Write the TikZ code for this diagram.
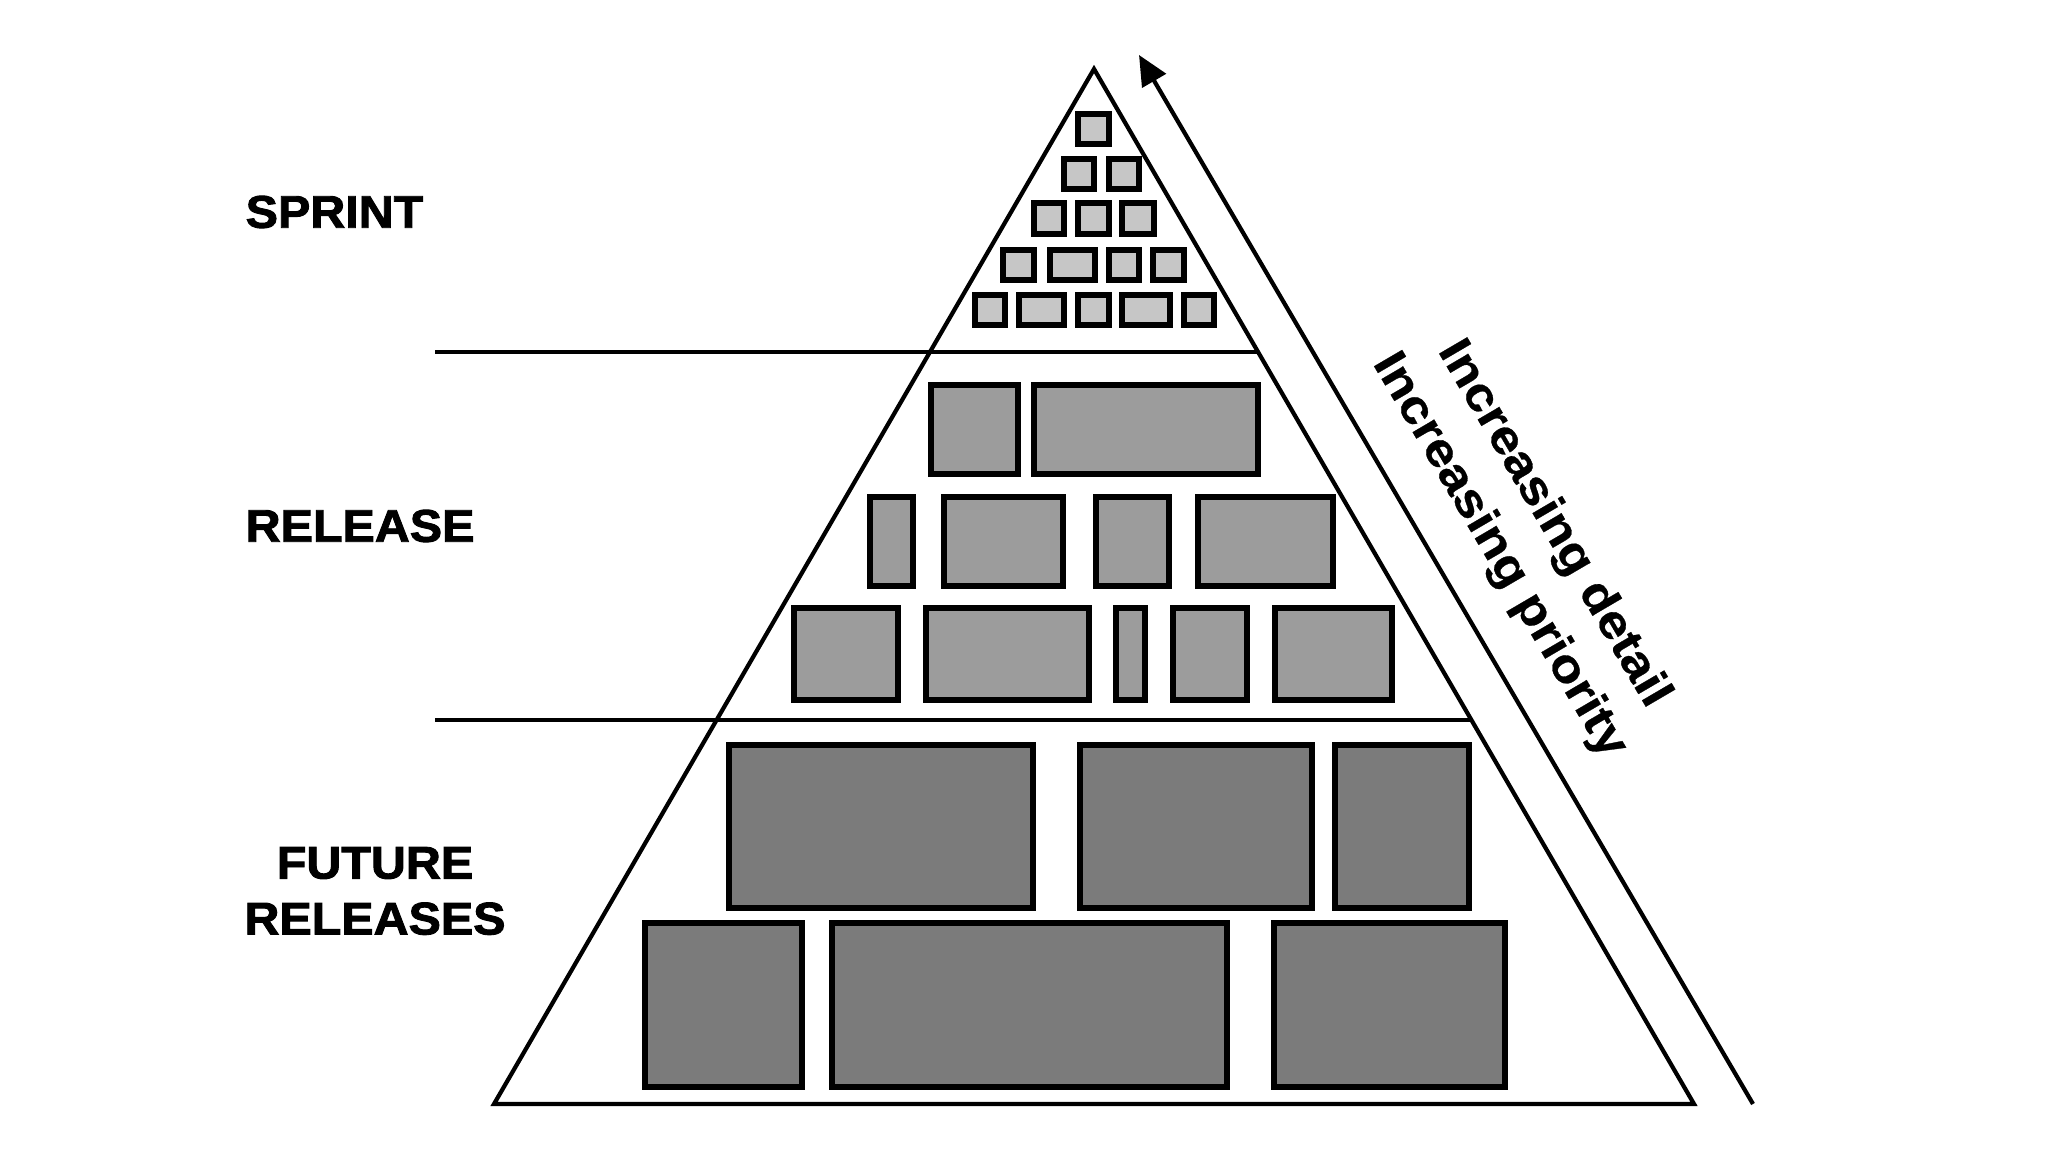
\documentclass[tikz,border=0pt]{standalone}
\usepackage{fontspec}
\setmainfont{Liberation Sans}
\newfontfamily\tierfont{Liberation Sans}[FakeStretch=1.06,FakeBold=2]
\newfontfamily\trendfont{Liberation Sans}[FakeStretch=1.12,FakeBold=0.6]
\usetikzlibrary{arrows.meta}
\definecolor{sprintgray}{HTML}{C6C6C6}
\definecolor{releasegray}{HTML}{9C9C9C}
\definecolor{futuregray}{HTML}{7B7B7B}
\tikzset{
  edge/.style={line width=1.2pt},
  brick/.style={draw=black, line width=1.7pt},
  sprintbrick/.style={brick, fill=sprintgray},
  releasebrick/.style={brick, fill=releasegray},
  futurebrick/.style={brick, fill=futuregray},
  tier/.style={inner sep=0pt, font=\tierfont\bfseries\fontsize{13}{15.9}\selectfont},
  trend/.style={inner sep=0pt, align=center, font=\trendfont\bfseries\fontsize{13.4}{17.8}\selectfont},
  >={Triangle[length=3mm, width=2.7mm]},
}

\begin{document}
\begin{tikzpicture}[x=0.1mm, y=-0.1mm]
    \useasboundingbox (0,0) rectangle (2048,1152);
    % pyramid
    \coordinate (apex) at (1094,69);
    \coordinate (baseL) at (494,1104);
    \coordinate (baseR) at (1694,1104);
    \draw[edge] (baseL) -- (apex) -- (baseR) -- cycle;
    % dividers between the tiers
    \coordinate (cutAL) at (435,352);
    \coordinate (cutAR) at (1258,352);
    \coordinate (cutBL) at (435,720);
    \coordinate (cutBR) at (1471,720);
    \draw[edge] (cutAL) -- (cutAR);
    \draw[edge] (cutBL) -- (cutBR);
    % sprint bricks
    \foreach \xa/\xb in {1078/1109}
      \draw[sprintbrick] (\xa,114) rectangle (\xb,144);
    \foreach \xa/\xb in {1064/1094, 1109/1139}
      \draw[sprintbrick] (\xa,159) rectangle (\xb,189);
    \foreach \xa/\xb in {1034/1064, 1078/1109, 1122/1154}
      \draw[sprintbrick] (\xa,203) rectangle (\xb,234);
    \foreach \xa/\xb in {1003/1034, 1050/1095, 1109/1139, 1153/1184}
      \draw[sprintbrick] (\xa,250) rectangle (\xb,280);
    \foreach \xa/\xb in {975/1005, 1019/1064, 1078/1109, 1122/1170, 1184/1214}
      \draw[sprintbrick] (\xa,295) rectangle (\xb,325);
    % release bricks
    \foreach \xa/\xb in {931/1018, 1034/1258}
      \draw[releasebrick] (\xa,385) rectangle (\xb,474);
    \foreach \xa/\xb in {870/913, 944/1063, 1096/1169, 1198/1333}
      \draw[releasebrick] (\xa,497) rectangle (\xb,586);
    \foreach \xa/\xb in {794/898, 926/1089, 1116/1145, 1173/1247, 1275/1392}
      \draw[releasebrick] (\xa,608) rectangle (\xb,700);
    % future bricks
    \foreach \xa/\xb in {729/1033, 1080/1312, 1335/1469}
      \draw[futurebrick] (\xa,745) rectangle (\xb,908);
    \foreach \xa/\xb in {645/802, 832/1227, 1274/1505}
      \draw[futurebrick] (\xa,923) rectangle (\xb,1087);
    % tier labels
    \node[tier, anchor=west] (sprint) at (245,212) {SPRINT};
    \node[tier, anchor=west] (release) at (245,526) {RELEASE};
    \node[tier, align=center] (future) at (375,891) {FUTURE\\RELEASES};
    % trend arrow
    \coordinate (trendfoot) at (1753,1104);
    \coordinate (trendhead) at (1139,55);
    \draw[edge, ->] (trendfoot) -- (trendhead);
    \node[trend, rotate=-59.66] (trendtext) at (1526,540) {Increasing detail\\Increasing priority};
\end{tikzpicture}
\end{document}
